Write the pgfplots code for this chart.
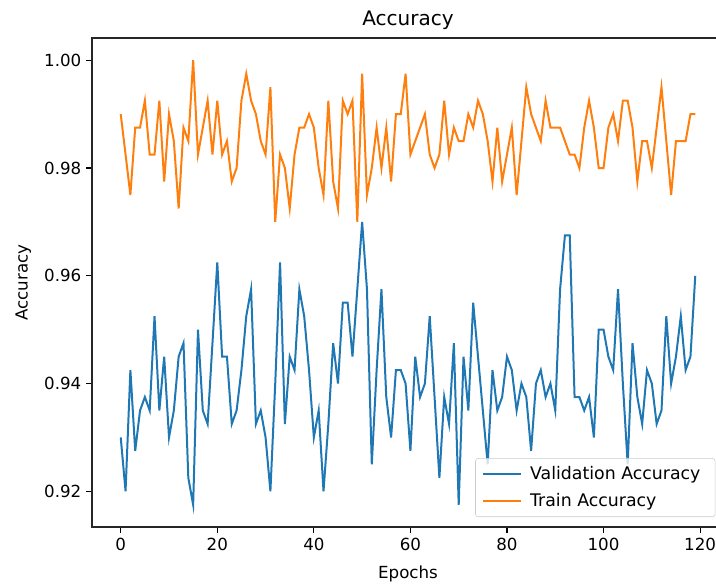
\documentclass[border=0pt]{standalone}
\usepackage{pgfplots}
\usepackage{pgfplotstable}
\pgfplotsset{compat=1.18}
\usepackage{fontspec}
\setmainfont{DejaVu Sans}
\definecolor{tabblue}{HTML}{1F77B4}
\definecolor{taborange}{HTML}{FF7F0E}
\pgfplotstableread{
ep val train
0 0.930 0.990
1 0.920 0.9825
2 0.9425 0.975
3 0.9275 0.9875
4 0.935 0.9875
5 0.9375 0.9925
6 0.935 0.9825
7 0.9525 0.9825
8 0.935 0.9925
9 0.945 0.9775
10 0.930 0.990
11 0.935 0.985
12 0.945 0.9725
13 0.9475 0.9875
14 0.9225 0.985
15 0.9175 1.000
16 0.950 0.9825
17 0.935 0.9875
18 0.9325 0.9925
19 0.9475 0.9825
20 0.9625 0.9925
21 0.945 0.9825
22 0.945 0.985
23 0.9325 0.9775
24 0.935 0.980
25 0.9425 0.9925
26 0.9525 0.9975
27 0.9575 0.9925
28 0.9325 0.990
29 0.935 0.985
30 0.930 0.9825
31 0.920 0.995
32 0.940 0.970
33 0.9625 0.9825
34 0.9325 0.980
35 0.945 0.9725
36 0.9425 0.9825
37 0.9575 0.9875
38 0.9525 0.9875
39 0.9425 0.990
40 0.930 0.9875
41 0.935 0.980
42 0.920 0.975
43 0.9325 0.9925
44 0.9475 0.9775
45 0.940 0.9725
46 0.955 0.9925
47 0.955 0.990
48 0.945 0.9925
49 0.9575 0.970
50 0.970 0.9975
51 0.9575 0.975
52 0.925 0.980
53 0.9425 0.9875
54 0.9575 0.980
55 0.9375 0.9875
56 0.930 0.9775
57 0.9425 0.990
58 0.9425 0.990
59 0.940 0.9975
60 0.9275 0.9825
61 0.945 0.985
62 0.9375 0.9875
63 0.940 0.990
64 0.9525 0.9825
65 0.9375 0.980
66 0.9225 0.9825
67 0.9375 0.9925
68 0.9325 0.9825
69 0.9475 0.9875
70 0.9175 0.985
71 0.945 0.985
72 0.935 0.990
73 0.955 0.9875
74 0.945 0.9925
75 0.935 0.990
76 0.925 0.985
77 0.9425 0.9775
78 0.935 0.9875
79 0.9375 0.9775
80 0.945 0.9825
81 0.9425 0.9875
82 0.935 0.975
83 0.940 0.985
84 0.9375 0.995
85 0.9275 0.990
86 0.940 0.9875
87 0.9425 0.985
88 0.9375 0.9925
89 0.940 0.9875
90 0.935 0.9875
91 0.9575 0.9875
92 0.9675 0.985
93 0.9675 0.9825
94 0.9375 0.9825
95 0.9375 0.980
96 0.935 0.9875
97 0.9375 0.9925
98 0.930 0.9875
99 0.950 0.980
100 0.950 0.980
101 0.945 0.9875
102 0.9425 0.990
103 0.9575 0.985
104 0.940 0.9925
105 0.925 0.9925
106 0.9475 0.9875
107 0.9375 0.9775
108 0.9325 0.985
109 0.9425 0.985
110 0.940 0.980
111 0.9325 0.9875
112 0.935 0.995
113 0.9525 0.985
114 0.940 0.975
115 0.945 0.985
116 0.9525 0.985
117 0.9425 0.985
118 0.945 0.990
119 0.960 0.990
}\acctable
\begin{document}
\begin{tikzpicture}
\begin{axis}[name=ax,
  width=474pt, height=366.75pt, scale only axis,
  xmin=-5.95, xmax=124.95, ymin=0.91338, ymax=1.00413,
  xtick={0,20,40,60,80,100,120},
  ytick={0.92,0.94,0.96,0.98,1.00},
  yticklabel style={/pgf/number format/fixed,/pgf/number format/fixed zerofill,/pgf/number format/precision=2},
  /pgf/number format/assume math mode=true,
  scaled y ticks=false,
  tick align=outside, tick pos=left, major tick length=4.5pt,
  every tick/.style={black, line width=0.8pt},
  ticklabel style={font=\fontsize{12.5}{15}\selectfont},
  axis line style={black!85, line width=0.8pt},
  title={Accuracy},
  title style={font=\fontsize{15}{18}\selectfont, yshift=-3pt},
  xlabel={Epochs}, ylabel={Accuracy},
  label style={font=\fontsize{12.5}{15}\selectfont},
  xlabel style={yshift=-4.5pt},
  ylabel style={yshift=3pt},
  legend style={at={(1,0)}, anchor=south east, xshift=-6.5pt, yshift=7.5pt,
    draw=black!20, rounded corners=2pt, fill=white, fill opacity=0.8, text opacity=1,
    font=\fontsize{13}{15.6}\selectfont, row sep=5pt, inner xsep=5pt, inner ysep=4pt,
    nodes={inner xsep=6pt}},
  legend cell align=left,
  legend image code/.code={\draw[#1, line width=1.5pt] (0pt,0pt) -- (28.5pt,0pt);},
]
\addplot[tabblue, line width=1.5pt] table[x=ep, y=val] {\acctable};
\addlegendentry{Validation Accuracy}
\addplot[taborange, line width=1.5pt] table[x=ep, y=train] {\acctable};
\addlegendentry{Train Accuracy}
\end{axis}
\pgfresetboundingbox
\path[use as bounding box] ([xshift=-69pt,yshift=-43.5pt]ax.south west) rectangle ([xshift=-6pt,yshift=28.5pt]ax.north east);
\end{tikzpicture}
\end{document}
